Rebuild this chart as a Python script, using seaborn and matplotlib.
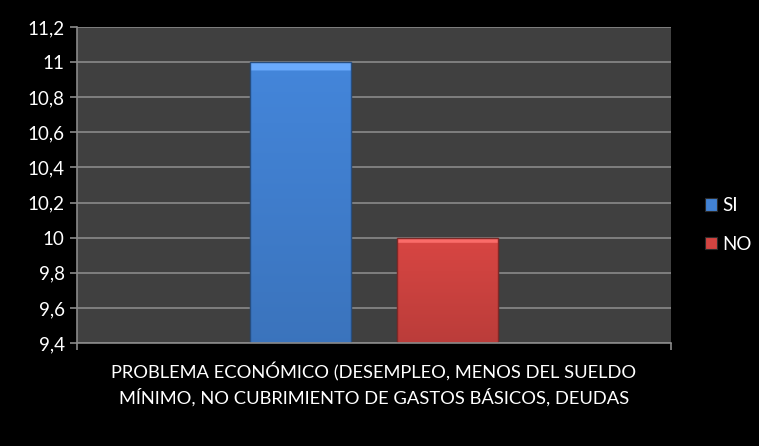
import matplotlib
matplotlib.use("Agg")
import matplotlib.pyplot as plt
import seaborn as sns
import pandas as pd
import numpy as np
from matplotlib.ticker import FixedLocator, FuncFormatter
from matplotlib.colors import to_rgb

# Chart data
category = ["PROBLEMA ECONÓMICO (DESEMPLEO, MENOS DEL SUELDO\nMÍNIMO, NO CUBRIMIENTO DE GASTOS BÁSICOS, DEUDAS"]
series = ["SI", "NO"]
values = [11, 10]
y_ticks = [9.4, 9.6, 9.8, 10.0, 10.2, 10.4, 10.6, 10.8, 11.0, 11.2]
colors = ["#4282D4", "#D24441"]

df = pd.DataFrame({
    "categoria": category * len(series),
    "serie": series,
    "valor": values,
})

sns.set_theme(style="dark")
plt.rcParams["font.family"] = ["Lato", "DejaVu Sans"]

fig = plt.figure(figsize=(7.59, 4.46), dpi=100, facecolor="black")
ax = fig.add_axes([77 / 759, 1 - 343 / 446, (671 - 77) / 759, (343 - 27) / 446])
ax.set_facecolor("#404040")

sns.barplot(data=df, x="categoria", y="valor", hue="serie", palette=colors,
            saturation=1, width=0.495, gap=0.31, ax=ax, legend=True,
            edgecolor="#2c2c2c", linewidth=0.8)

ymin, ymax = 9.4, 11.2
ax.set_ylim(ymin, ymax)
ax.set_xlim(-0.5, 0.5)

# Soft vertical shading with a bevel highlight on each bar
for patch in list(ax.patches):
    x0, w = patch.get_x(), patch.get_width()
    top = patch.get_y() + patch.get_height()
    base = np.array(to_rgb(patch.get_facecolor()))
    n = 200
    t = np.linspace(0, 1, n)[:, None]  # 0 = top, 1 = bottom
    shade = base[None, :] * (1.03 - 0.14 * t)
    hl = int(n * 0.025 / max(top - ymin, 1e-6) * 1.0) + 3
    shade[:hl] = np.clip(base * 1.0 + 0.16, 0, 1)
    img = np.clip(shade, 0, 1)[:, None, :].repeat(2, axis=1)
    im = ax.imshow(img, extent=[x0, x0 + w, ymin, top], aspect="auto",
                   origin="upper", zorder=patch.get_zorder() + 0.1,
                   interpolation="bilinear")
    im.set_clip_path(patch)
    edge = plt.Rectangle((x0, ymin), w, top - ymin, fill=False,
                         edgecolor=tuple(base * 0.6), linewidth=1.0,
                         zorder=patch.get_zorder() + 0.2)
    ax.add_patch(edge)

ax.set_xlim(-0.5, 0.5)
ax.set_ylim(ymin, ymax)
ax.yaxis.set_major_locator(FixedLocator(y_ticks))
ax.yaxis.set_major_formatter(FuncFormatter(lambda v, p: (f"{v:.1f}".rstrip("0").rstrip(".")).replace(".", ",")))
ax.grid(axis="y", color="#8a8a8a", linewidth=1.2)
ax.grid(axis="x", visible=False)
ax.set_axisbelow(True)

for side in ["top", "right"]:
    ax.spines[side].set_visible(False)
for side in ["left", "bottom"]:
    ax.spines[side].set_visible(True)
    ax.spines[side].set_color("#8a8a8a")
    ax.spines[side].set_linewidth(1.2)
    ax.spines[side].set_zorder(5)

ax.tick_params(axis="y", colors="#8a8a8a", labelcolor="white", labelsize=13.5,
               length=5, width=1.2, direction="out", left=True, pad=4)
ax.tick_params(axis="x", labelcolor="white", labelsize=13.2, length=0, pad=14)
ax.set_xticks([0])
ax.set_xticklabels(category, linespacing=1.45)
ax.xaxis.set_minor_locator(FixedLocator([-0.5, 0.5]))
ax.tick_params(axis="x", which="minor", colors="#8a8a8a", length=5, width=1.2,
               bottom=True, direction="out")
ax.set_xlabel("")
ax.set_ylabel("")

leg = ax.legend(loc="center left", bbox_to_anchor=(705 / 759, 1 - 225 / 446),
                bbox_transform=fig.transFigure, frameon=False, fontsize=13.5,
                labelcolor="white", handlelength=0.65, handleheight=0.65,
                handletextpad=0.25, labelspacing=1.15, borderpad=0, borderaxespad=0)

fig.savefig("out.png", dpi=100, facecolor="black")
